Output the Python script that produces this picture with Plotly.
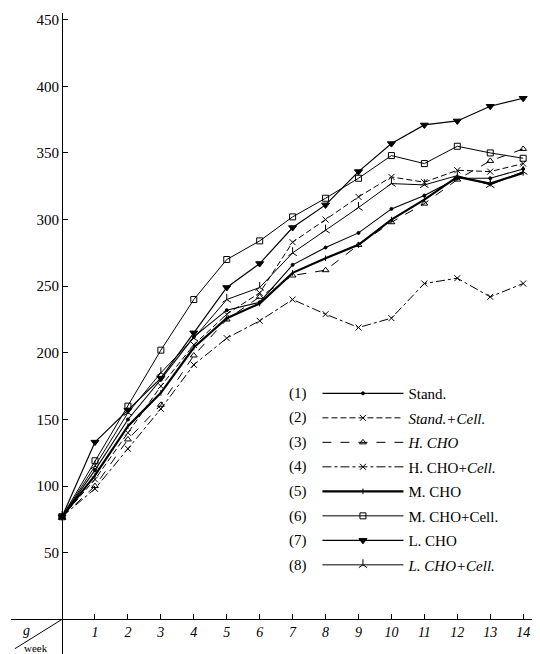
import plotly.graph_objects as go

weeks = list(range(0, 15))

stand = [77, 112, 150, 180, 212, 232, 238, 266, 279, 290, 308, 318, 331, 331, 338]
stand_cell = [77, 105, 140, 175, 206, 229, 245, 283, 300, 317, 332, 328, 337, 336, 342]
h_cho = [77, 100, 135, 161, 198, 225, 242, 258, 262, 281, 298, 312, 330, 344, 353]
h_cho_cell = [77, 98, 128, 158, 191, 211, 224, 240, 229, 219, 226, 252, 256, 242, 252]
m_cho = [77, 108, 145, 170, 204, 226, 237, 260, 271, 281, 300, 315, 332, 327, 335]
m_cho_cell = [77, 119, 160, 202, 240, 270, 284, 302, 316, 331, 348, 342, 355, 350, 346]
l_cho = [77, 133, 157, 181, 215, 249, 267, 294, 311, 336, 357, 371, 374, 385, 391]
l_cho_cell = [77, 115, 155, 185, 211, 240, 249, 275, 292, 309, 327, 326, 333, 326, 336]

x_ticks = list(range(1, 15))
y_ticks = list(range(50, 451, 50))

series = [
    ("(1)", "Stand.", stand, "solid", 1.1, "circle", 3),
    ("(2)", "<i>Stand.+Cell.</i>", stand_cell, "6px,3px", 1.0, "x-thin-open", 6),
    ("(3)", "<i>H. CHO</i>", h_cho, "dash", 1.0, "triangle-up-open", 6),
    ("(4)", "H. CHO+<i>Cell.</i>", h_cho_cell, "dashdot", 1.0, "x-thin-open", 6),
    ("(5)", "M. CHO", m_cho, "solid", 2.2, "line-ns-open", 4),
    ("(6)", "M. CHO+Cell.", m_cho_cell, "solid", 1.0, "square-open", 6),
    ("(7)", "L. CHO", l_cho, "solid", 1.2, "triangle-down", 7),
    ("(8)", "<i>L. CHO+Cell.</i>", l_cho_cell, "solid", 1.0, "y-up-open", 7),
]

SERIF = "Liberation Serif, Times New Roman, serif"

fig = go.Figure()
for i, (num, name, vals, dash, lw, sym, ms) in enumerate(series):
    fig.add_trace(go.Scatter(
        x=weeks, y=vals, mode="lines+markers", name=name,
        legendgroup=f"g{i}",
        line=dict(color="black", width=lw, dash=dash),
        marker=dict(symbol=sym, size=ms, color="black",
                    line=dict(color="black", width=1)),
    ))

y_lo, y_hi = -26, 455
x_lo, x_hi = -1.55, 14.45

# the page body adds an 8px offset, so the figure is 8px smaller
W, H = 532, 646
ML, MR, MT, MB = 3, 2, 5, 0
PH = H - MT - MB

fig.update_layout(
    width=W, height=H,
    margin=dict(l=ML, r=MR, t=MT, b=MB),
    paper_bgcolor="white", plot_bgcolor="white",
    font=dict(family=SERIF, color="black", size=13),
    showlegend=True,
    legend=dict(
        x=0.5815, y=0.432, xanchor="left", yanchor="top",
        bgcolor="rgba(0,0,0,0)", borderwidth=0,
        font=dict(family=SERIF, size=15, color="black"),
        itemwidth=81, tracegroupgap=2,
    ),
    xaxis=dict(
        range=[x_lo, x_hi], anchor="free",
        position=(0 - y_lo) / (y_hi - y_lo),
        showline=True, linecolor="black", linewidth=1.2,
        ticks="inside", ticklen=5, tickcolor="black",
        tickvals=x_ticks, ticktext=[str(v) for v in x_ticks],
        tickfont=dict(family=SERIF, size=14, color="black", style="italic"),
        showgrid=False, zeroline=False,
    ),
    yaxis=dict(
        range=[y_lo, y_hi], anchor="free",
        position=(0 - x_lo) / (x_hi - x_lo),
        showline=True, linecolor="black", linewidth=1.2,
        ticks="inside", ticklen=5, tickcolor="black",
        tickvals=y_ticks, ticktext=[str(v) for v in y_ticks],
        tickfont=dict(family=SERIF, size=15, color="black"),
        showgrid=False, zeroline=False,
    ),
)

# unit marks at the corner
fig.add_shape(type="line", xref="x", yref="y", x0=-1.43, y0=-22, x1=0, y1=0,
              line=dict(color="black", width=1))
fig.add_annotation(x=-1.08, y=-8, xref="x", yref="y", text="<i>g</i>",
                   showarrow=False, font=dict(family=SERIF, size=14))
fig.add_annotation(x=-0.8, y=-21.5, xref="x", yref="y", text="week",
                   showarrow=False, font=dict(family=SERIF, size=11))

# legend numbers, one per legend row
row_first_px = 385  # figure-pixel centre of first legend row
row_step_px = 24.6
for i, (num, *_rest) in enumerate(series):
    ypx = row_first_px + i * row_step_px
    fig.add_annotation(x=0.545, y=1 - (ypx - MT) / PH, xref="paper", yref="paper",
                       text=num, showarrow=False, xanchor="center", yanchor="middle",
                       font=dict(family=SERIF, size=15))

fig.write_html("out.html")
